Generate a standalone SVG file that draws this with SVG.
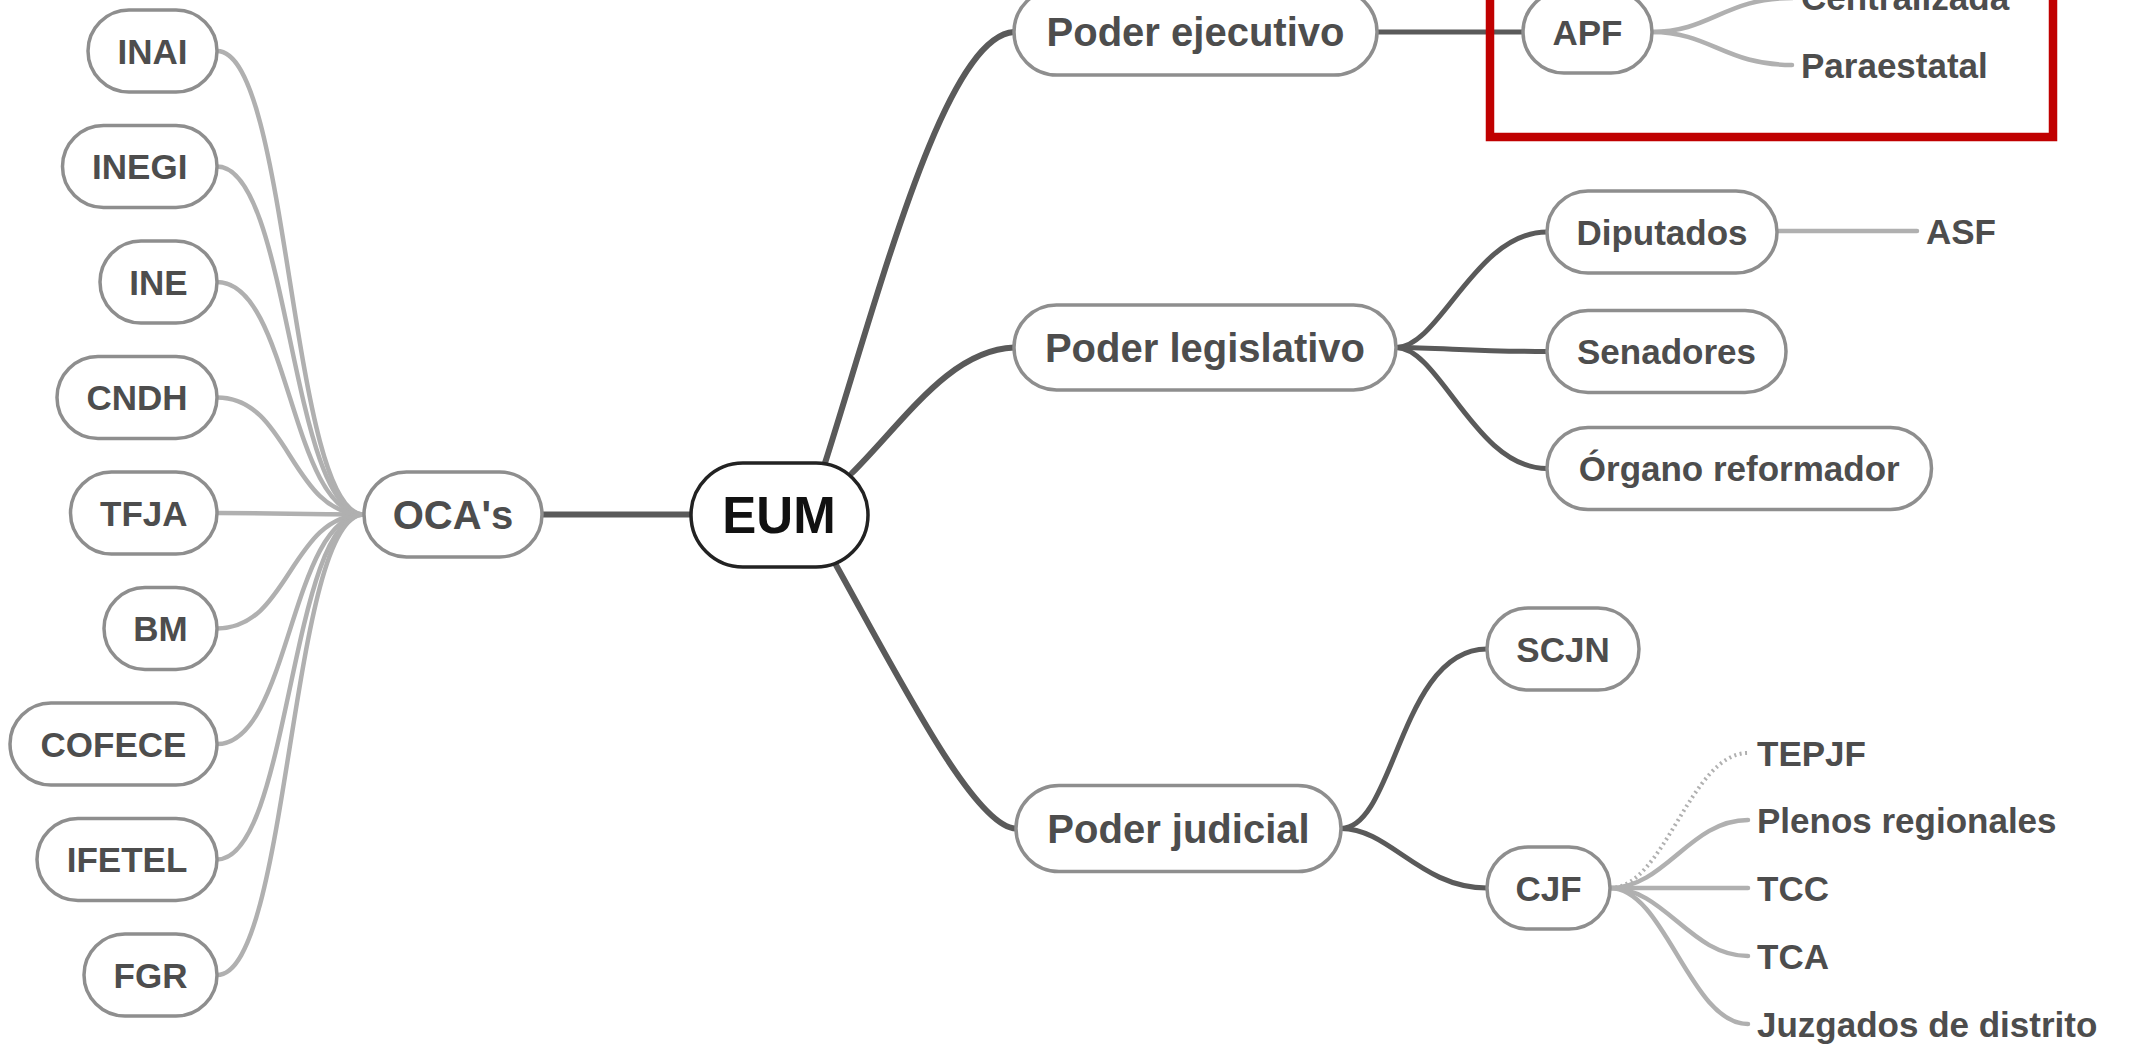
<svg xmlns="http://www.w3.org/2000/svg" width="2131" height="1046" viewBox="0 0 2131 1046">
<style>
text{font-family:"Liberation Sans",Arial,sans-serif;font-weight:bold;fill:#4d4d4d}
.n rect{fill:#fff;stroke:#8e8e8e;stroke-width:3.5}
.t2{font-size:35px;text-anchor:middle}
.t1{font-size:40px;text-anchor:middle}
.t3{font-size:35px}
.dk{fill:none;stroke:#5a5a5a;stroke-width:6;stroke-linecap:round}
.dk2{fill:none;stroke:#5a5a5a;stroke-width:5;stroke-linecap:round}
.lt{fill:none;stroke:#b0b0b0;stroke-width:4.5;stroke-linecap:round}
.dot{fill:none;stroke:#b0b0b0;stroke-width:4;stroke-dasharray:2 3.5}
</style>
<rect x="0" y="0" width="2131" height="1046" fill="#fff"/>
<g id="connectors">
<path class="lt" d="M217,51 C290,51 290,514.5 364,514.5"/>
<path class="lt" d="M217,166.5 C290,166.5 290,514.5 364,514.5"/>
<path class="lt" d="M217,282 C290,282 290,514.5 364,514.5"/>
<path class="lt" d="M217,397.5 C290,397.5 290,514.5 364,514.5"/>
<path class="lt" d="M217,513 C290,513 290,514.5 364,514.5"/>
<path class="lt" d="M217,628.5 C290,628.5 290,514.5 364,514.5"/>
<path class="lt" d="M217,744 C290,744 290,514.5 364,514.5"/>
<path class="lt" d="M217,859.5 C290,859.5 290,514.5 364,514.5"/>
<path class="lt" d="M217,975 C290,975 290,514.5 364,514.5"/>
<path class="dk" d="M542,514.5 L691,514.5"/>
<path class="dk" d="M825,463 C880,290 945,36 1014,32"/>
<path class="dk" d="M852,473 C905,420 950,350 1014,347.5"/>
<path class="dk" d="M836,565 C900,680 975,828 1016,828.5"/>
<path class="dk2" d="M1377,32 L1523,32"/>
<path class="lt" d="M1652,32 C1710,32 1725,-2 1792,-2"/>
<path class="lt" d="M1652,32 C1710,32 1725,65 1792,65"/>
<path class="dk2" d="M1396,347.5 C1440,347.5 1475,232 1547,232"/>
<path class="dk2" d="M1396,347.5 C1440,347.5 1475,351.5 1547,351.5"/>
<path class="dk2" d="M1396,347.5 C1440,347.5 1475,468.5 1547,468.5"/>
<path class="lt" d="M1777,231 L1917,231"/>
<path class="dk2" d="M1341,828.5 C1395,828.5 1400,649 1487,649"/>
<path class="dk2" d="M1341,828.5 C1390,828.5 1420,888 1487,888"/>
<path class="dot" d="M1610,888 C1665,888 1690,753 1748,753"/>
<path class="lt" d="M1610,888 C1665,888 1690,820 1748,820"/>
<path class="lt" d="M1610,888 L1748,888"/>
<path class="lt" d="M1610,888 C1665,888 1690,956 1748,956"/>
<path class="lt" d="M1610,888 C1665,888 1690,1024 1748,1024"/>
</g>
<g id="n-inai" class="n"><rect x="88" y="10" width="129" height="82" rx="41"/><text class="t2" x="152.5" y="63.5">INAI</text></g>
<g id="n-inegi" class="n"><rect x="62.5" y="125.5" width="154.5" height="82" rx="41"/><text class="t2" x="139.75" y="179">INEGI</text></g>
<g id="n-ine" class="n"><rect x="100" y="241" width="117" height="82" rx="41"/><text class="t2" x="158.5" y="294.5">INE</text></g>
<g id="n-cndh" class="n"><rect x="57" y="356.5" width="160" height="82" rx="41"/><text class="t2" x="137" y="410">CNDH</text></g>
<g id="n-tfja" class="n"><rect x="70.5" y="472" width="146.5" height="82" rx="41"/><text class="t2" x="143.75" y="525.5">TFJA</text></g>
<g id="n-bm" class="n"><rect x="104" y="587.5" width="113" height="82" rx="41"/><text class="t2" x="160.5" y="641">BM</text></g>
<g id="n-cofece" class="n"><rect x="10" y="703" width="207" height="82" rx="41"/><text class="t2" x="113.5" y="756.5">COFECE</text></g>
<g id="n-ifetel" class="n"><rect x="37" y="818.5" width="180" height="82" rx="41"/><text class="t2" x="127" y="872">IFETEL</text></g>
<g id="n-fgr" class="n"><rect x="84" y="934" width="133" height="82" rx="41"/><text class="t2" x="150.5" y="987.5">FGR</text></g>
<g id="n-ocas" class="n"><rect x="364" y="472" width="178" height="85" rx="42.5"/><text class="t1" x="453" y="529">OCA's</text></g>
<g id="n-eum"><rect x="691" y="463" width="177" height="104" rx="52" fill="#fff" stroke="#222" stroke-width="3.5"/><text x="779" y="533" font-size="51" text-anchor="middle" style="fill:#111">EUM</text></g>
<g id="n-ejecutivo" class="n"><rect x="1014" y="-11" width="363" height="86" rx="43"/><text class="t1" x="1195.5" y="46">Poder ejecutivo</text></g>
<g id="n-legislativo" class="n"><rect x="1014" y="305" width="382" height="85" rx="42.5"/><text class="t1" x="1205" y="361.5">Poder legislativo</text></g>
<g id="n-judicial" class="n"><rect x="1016" y="785.5" width="325" height="86" rx="43"/><text class="t1" x="1178.5" y="843">Poder judicial</text></g>
<g id="n-apf" class="n"><rect x="1523" y="-9" width="129" height="82" rx="41"/><text class="t2" x="1587.5" y="44.5">APF</text></g>
<g id="n-centralizada"><text class="t3" x="1801" y="10">Centralizada</text></g>
<g id="n-paraestatal"><text class="t3" x="1801" y="77.5">Paraestatal</text></g>
<g id="n-diputados" class="n"><rect x="1547" y="191" width="230" height="82" rx="41"/><text class="t2" x="1662" y="244.5">Diputados</text></g>
<g id="n-asf"><text class="t3" x="1926" y="243.5">ASF</text></g>
<g id="n-senadores" class="n"><rect x="1547" y="310.5" width="239" height="82" rx="41"/><text class="t2" x="1666.5" y="364">Senadores</text></g>
<g id="n-organo" class="n"><rect x="1547" y="427.5" width="384.5" height="82" rx="41"/><text class="t2" x="1739.25" y="481">Órgano reformador</text></g>
<g id="n-scjn" class="n"><rect x="1487" y="608" width="152" height="82" rx="41"/><text class="t2" x="1563" y="661.5">SCJN</text></g>
<g id="n-cjf" class="n"><rect x="1487" y="847" width="123" height="82" rx="41"/><text class="t2" x="1548.5" y="900.5">CJF</text></g>
<g id="n-tepjf"><text class="t3" x="1757" y="765.5">TEPJF</text></g>
<g id="n-plenos"><text class="t3" x="1757" y="832.5">Plenos regionales</text></g>
<g id="n-tcc"><text class="t3" x="1757" y="900.5">TCC</text></g>
<g id="n-tca"><text class="t3" x="1757" y="968.5">TCA</text></g>
<g id="n-juzgados"><text class="t3" x="1757" y="1036.5">Juzgados de distrito</text></g>
<rect id="highlight" x="1490" y="-20" width="563" height="157" fill="none" stroke="#c00000" stroke-width="8.5"/>
</svg>
